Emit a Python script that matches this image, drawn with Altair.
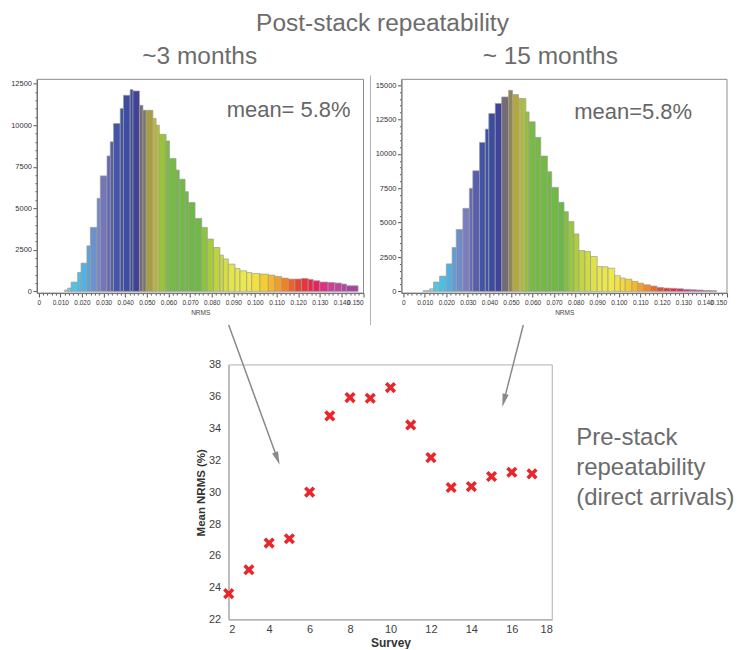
import math
import pandas as pd
import altair as alt

# ---------------- data ----------------
# ~3 months histogram: bin edges (NRMS) and counts
L_EDGES = [0.0119, 0.0134, 0.0150, 0.0180, 0.0196, 0.0223, 0.0239, 0.0270, 0.0285, 0.0316,
           0.0331, 0.0346, 0.0377, 0.0392, 0.0423, 0.0436, 0.0466, 0.0482, 0.0497, 0.0528,
           0.0543, 0.0558, 0.0589, 0.0605, 0.0635, 0.0650, 0.0677, 0.0692, 0.0723, 0.0754,
           0.0780, 0.0808, 0.0838, 0.0854, 0.0877, 0.0908, 0.0931, 0.0962, 0.0985, 0.1023,
           0.1062, 0.1092, 0.1123, 0.1154, 0.1185, 0.1215, 0.1246, 0.1269, 0.1300, 0.1338,
           0.1369, 0.1400, 0.1423, 0.1477]
L_COUNTS = [80, 200, 560, 1140, 1700, 2740, 3850, 5600, 6950, 8150,
            9000, 10100, 11000, 11800, 12140, 12060, 11200, 10900, 10900, 10400,
            10000, 9450, 9050, 8000, 7300, 6750, 6000, 5350, 4390, 3850,
            3150, 2640, 2180, 1950, 1640, 1380, 1240, 1140, 1080, 1040,
            980, 900, 800, 740, 740, 780, 720, 640, 560, 540,
            500, 440, 340]

# ~15 months histogram
R_EDGES = [0.0092, 0.0123, 0.0141, 0.0169, 0.0200, 0.0227, 0.0246, 0.0277, 0.0307, 0.0323,
           0.0354, 0.0381, 0.0397, 0.0427, 0.0457, 0.0489, 0.0507, 0.0535, 0.0550, 0.0569,
           0.0584, 0.0612, 0.0638, 0.0669, 0.0689, 0.0720, 0.0746, 0.0766, 0.0792, 0.0815,
           0.0843, 0.0869, 0.0900, 0.0923, 0.0950, 0.0981, 0.1007, 0.1030, 0.1061, 0.1089,
           0.1115, 0.1146, 0.1177, 0.1207, 0.1238, 0.1269, 0.1300, 0.1330, 0.1361, 0.1392,
           0.1423, 0.1454]
R_COUNTS = [50, 190, 680, 1110, 2000, 3190, 4500, 6040, 7490, 8770,
            10830, 11800, 12930, 13660, 14140, 14620, 14310, 14040, 14020, 13050,
            12330, 11200, 9840, 8700, 7560, 6480, 5800, 5080, 4180, 2970,
            2900, 2540, 1810, 1790, 1690, 1140, 970, 890, 725, 600,
            480, 390, 290, 240, 220, 190, 145, 120, 100, 70,
            50]

# pre-stack scatter
SURVEY = [2, 3, 4, 5, 6, 7, 8, 9, 10, 11, 12, 13, 14, 15, 16, 17]
MEAN_NRMS = [23.63, 25.13, 26.81, 27.08, 30.01, 34.80, 35.95, 35.91, 36.58, 34.23,
             32.18, 30.30, 30.36, 30.99, 31.26, 31.16]

# colour map of the histograms (NRMS value -> colour)
COLOR_STOPS = [0.0125, 0.015, 0.020, 0.0235, 0.026, 0.029, 0.032, 0.036, 0.0425, 0.0455,
               0.0468, 0.0488, 0.0505, 0.0535, 0.0565, 0.060, 0.0735, 0.0775, 0.083, 0.090,
               0.098, 0.103, 0.1075, 0.1115, 0.116, 0.1205, 0.125, 0.129, 0.134, 0.140, 0.146]
COLOR_RANGE = ['#a9d6de', '#52c9e2', '#4fb9e8', '#5a9fd8', '#6f8ecb', '#7b7fc0', '#6466b2',
               '#4454a8', '#3a4b9f', '#413f98', '#6b6b78', '#75736c', '#a09446', '#c3b935',
               '#a3c63a', '#78bb42', '#6cb844', '#96c63b', '#c4d63f', '#e6e64a', '#f1e84b',
               '#f4d535', '#f4b82b', '#f29828', '#ef6a29', '#e8402f', '#e82a48', '#e62262',
               '#d43c94', '#b6489e', '#a443a0']

X_TICKS = [round(i * 0.002, 3) for i in range(76)]
Y_TICKS_L = list(range(0, 12501, 500))
Y_TICKS_R = list(range(0, 15001, 500))
SURVEY_TICKS = [2, 4, 6, 8, 10, 12, 14, 16, 18]
NRMS_TICKS = [22, 24, 26, 28, 30, 32, 34, 36, 38]

TITLE = "Post-stack repeatability"
SUB_L = "~3 months"
SUB_R = "~ 15 months"
MEAN_L = "mean= 5.8%"
MEAN_R = "mean=5.8%"
PRESTACK = "Pre-stack\nrepeatability\n(direct arrivals)"

# ---------------- styling ----------------
FONT = "Liberation Sans, Arial, sans-serif"
GREY_TXT = "#6c6c6c"
W, H = 727, 634
ONE = pd.DataFrame({"k": [0]})

MAJOR_X = "abs(datum.value*100 - round(datum.value*100)) < 0.01"
MAJOR_Y = "datum.value % 2500 === 0"


def hist_df(edges, counts):
    return pd.DataFrame({"x0": edges[:-1], "x1": edges[1:], "count": counts})


def hist_x_axis():
    return alt.Axis(
        orient="bottom", offset=-(H - 285), values=X_TICKS,
        labelExpr=f"{MAJOR_X} ? (datum.value === 0 ? '0' : format(datum.value, '.3f')) : ''",
        labelFont=FONT, labelFontSize=6.5, labelColor="#333", labelPadding=2,
        labelFlush=True, labelOverlap=False,
        tickSize={"condition": {"test": MAJOR_X, "value": 4}, "value": 2},
        tickColor="#555", domainColor="#555", grid=False,
        title="NRMS", titleFont=FONT, titleFontSize=6.5, titleFontWeight="normal",
        titleColor="#444", titlePadding=4,
    )


def hist_y_axis(offset, ticks):
    return alt.Axis(
        orient="left", offset=offset, values=ticks, format="d",
        labelExpr=f"{MAJOR_Y} ? datum.label : ''",
        labelFont=FONT, labelFontSize=7.5, labelColor="#333", labelPadding=1.5,
        labelOverlap=False,
        tickSize={"condition": {"test": MAJOR_Y, "value": 4}, "value": 2},
        tickColor="#555", domainColor="#555", grid=False, title=None,
    )


COLOR = alt.Color("mid:Q", scale=alt.Scale(domain=COLOR_STOPS, range=COLOR_RANGE, clamp=True),
                  legend=None)


def histogram(edges, counts, xrange, ydomain, yaxis_offset, yticks):
    return (
        alt.Chart(hist_df(edges, counts))
        .transform_calculate(mid="(datum.x0 + datum.x1) / 2")
        .mark_rect(stroke="#9c9c9c", strokeWidth=0.7)
        .encode(
            x=alt.X("x0:Q", scale=alt.Scale(domain=[-0.0008, 0.1502], range=xrange, nice=False, zero=False),
                    axis=hist_x_axis()),
            x2="x1:Q",
            y=alt.Y("count:Q", scale=alt.Scale(domain=ydomain, range=[285, 71], nice=False, zero=False),
                    axis=hist_y_axis(yaxis_offset, yticks)),
            y2=alt.datum(0),
            color=COLOR,
        )
    )


def frame(x1, x2, y1, y2, color):
    return alt.Chart(ONE).mark_rect(fillOpacity=0, stroke=color, strokeWidth=1).encode(
        x=alt.value(x1), x2=alt.value(x2), y=alt.value(y1), y2=alt.value(y2))


def text(t, x, y, size, align="center", color=GREY_TXT, **kw):
    return alt.Chart(ONE).mark_text(
        font=FONT, fontSize=size, color=color, align=align, baseline="alphabetic", **kw
    ).encode(x=alt.value(x), y=alt.value(y), text=alt.value(t))


def arrow(x0, y0, x1, y1, r=7.0):
    dx, dy = x1 - x0, y1 - y0
    L = math.hypot(dx, dy)
    ux, uy = dx / L, dy / L
    cx, cy = x1 - r * ux, y1 - r * uy
    ang = math.degrees(math.atan2(-dx, dy)) % 360
    line = alt.Chart(ONE).mark_rule(color="#8a8a8a", strokeWidth=1.5).encode(
        x=alt.value(x0), y=alt.value(y0), x2=alt.value(cx), y2=alt.value(cy))
    head = alt.Chart(ONE).mark_point(
        shape="M0,1L-0.45,-0.9L0.45,-0.9Z", filled=True, color="#8a8a8a", opacity=1,
        size=(2 * r) ** 2, angle=ang, strokeWidth=0,
    ).encode(x=alt.value(cx), y=alt.value(cy))
    return [line, head]


left = histogram(L_EDGES, L_COUNTS, [29, 356], [-100, 12760], -29, Y_TICKS_L)
right = histogram(R_EDGES, R_COUNTS, [394, 720], [-120, 15420], -394, Y_TICKS_R)

XMARK = "M-1,-0.55L-0.55,-1L0,-0.45L0.55,-1L1,-0.55L0.45,0L1,0.55L0.55,1L0,0.45L-0.55,1L-1,0.55L-0.45,0Z"
scatter = alt.Chart(pd.DataFrame({"survey": SURVEY, "nrms": MEAN_NRMS})).mark_point(
    shape=XMARK, filled=True, color="#e8262b", opacity=1, size=125, strokeWidth=0
).encode(
    x=alt.X("survey:Q", scale=alt.Scale(domain=[2, 18], range=[221, 545], nice=False, zero=False),
            axis=alt.Axis(orient="bottom", offset=-(H - 612), values=SURVEY_TICKS, ticks=False,
                          labelFont=FONT, labelFontSize=11, labelColor="#404040", labelPadding=4,
                          domainColor="#a8a8a8", grid=False, title="Survey", titleFont=FONT,
                          titleFontSize=12, titleFontWeight="bold", titleColor="#333",
                          titlePadding=3)),
    y=alt.Y("nrms:Q", scale=alt.Scale(domain=[22, 38], range=[612, 357], nice=False, zero=False),
            axis=alt.Axis(orient="left", offset=-221, values=NRMS_TICKS, ticks=False,
                          labelFont=FONT, labelFontSize=11, labelColor="#404040", labelPadding=8,
                          domainColor="#a8a8a8", grid=False, title="Mean NRMS (%)", titleFont=FONT,
                          titleFontSize=11.5, titleFontWeight="bold", titleColor="#333",
                          titlePadding=2)),
)

layers = [
    left, frame(29, 356, 71, 285, "#8c8c8c"),
    right, frame(394, 720, 71, 285, "#8c8c8c"),
    alt.Chart(ONE).mark_rule(color="#b4b4b4", strokeWidth=1).encode(
        x=alt.value(363), y=alt.value(67), y2=alt.value(317)),
    frame(221, 545, 357, 612, "#b0b0b0"),
    scatter,
    text(TITLE, 375, 23, 24.5),
    text(SUB_L, 192, 56, 24.5),
    text(SUB_R, 543, 56, 24.5),
    text(MEAN_L, 219, 109, 22, align="left", color="#666"),
    text(MEAN_R, 567, 111, 22, align="left", color="#666"),
    text(PRESTACK, 569, 437, 24, align="left", lineBreak="\n", lineHeight=30),
]
layers += arrow(221, 317, 272, 457)
layers += arrow(516, 317, 495, 399)

chart = (
    alt.layer(*layers)
    .resolve_scale(x="independent", y="independent")
    .resolve_axis(x="independent", y="independent")
    .properties(width=W, height=H, padding=0)
    .configure_view(stroke=None)
)

chart.save("out.html", embed_options={"renderer": "svg", "actions": False})
